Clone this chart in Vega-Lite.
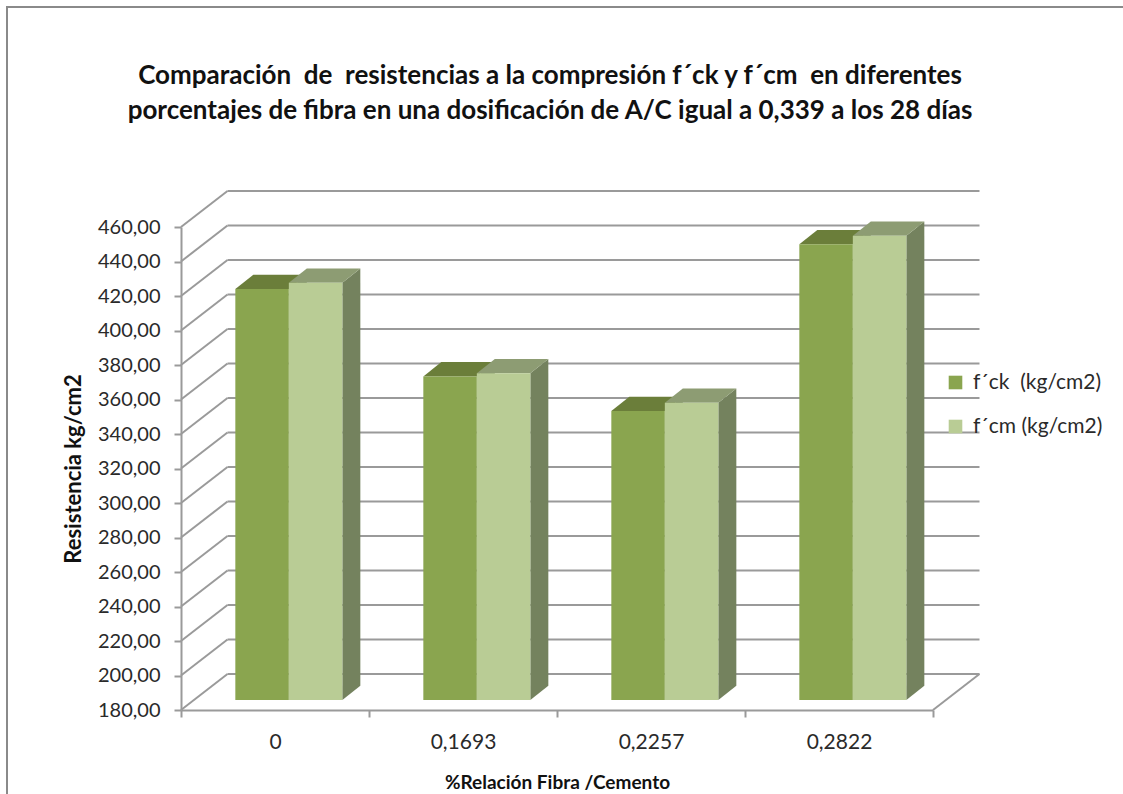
{
  "$schema": "https://vega.github.io/schema/vega-lite/v6.json",
  "width": 1118,
  "height": 790,
  "padding": {"left": 7, "top": 7, "right": 0, "bottom": 0},
  "autosize": {"type": "none"},
  "background": "white",
  "view": {"stroke": "#8a8a8a", "strokeWidth": 2, "fill": "white"},
  "config": {"font": "Lato"},
  "title": {
    "text": ["Comparación \u00a0de \u00a0resistencias a la compresión f´ck y f´cm \u00a0en diferentes", "porcentajes de fibra en una dosificación de A/C igual a 0,339 a los 28 días"],
    "anchor": "middle",
    "frame": "group",
    "dx": -16,
    "offset": -117,
    "fontSize": 26,
    "fontWeight": "bold",
    "lineHeight": 35,
    "color": "#111111"
  },
  "data": {
    "values": [
      {"categoria": "0", "serie": "f´ck \u00a0(kg/cm2)", "valor": 418.3},
      {"categoria": "0", "serie": "f´cm (kg/cm2)", "valor": 421.9},
      {"categoria": "0,1693", "serie": "f´ck \u00a0(kg/cm2)", "valor": 367.6},
      {"categoria": "0,1693", "serie": "f´cm (kg/cm2)", "valor": 369.4},
      {"categoria": "0,2257", "serie": "f´ck \u00a0(kg/cm2)", "valor": 347.5},
      {"categoria": "0,2257", "serie": "f´cm (kg/cm2)", "valor": 352.3},
      {"categoria": "0,2822", "serie": "f´ck \u00a0(kg/cm2)", "valor": 444.2},
      {"categoria": "0,2822", "serie": "f´cm (kg/cm2)", "valor": 449.1}
    ]
  },
  "transform": [
    {"calculate": "indexof(['0','0,1693','0,2257','0,2822'], datum.categoria)", "as": "indice"},
    {"calculate": "indexof(datum.serie, 'ck') >= 0 ? 0 : 1", "as": "orden"},
    {"calculate": "datum.indice + 0.289 + 0.2846 * datum.orden", "as": "xIzq"},
    {"calculate": "datum.xIzq + 0.2846", "as": "xDer"},
    {"calculate": "datum.valor + 5.8", "as": "techo"},
    {"calculate": "185.8", "as": "piso"}
  ],
  "layer": [
    {
      "description": "Pared lateral: diagonales de la cuadrícula, y ejes del gráfico",
      "data": {"values": [{"v": 180}, {"v": 200}, {"v": 220}, {"v": 240}, {"v": 260}, {"v": 280}, {"v": 300}, {"v": 320}, {"v": 340}, {"v": 360}, {"v": 380}, {"v": 400}, {"v": 420}, {"v": 440}, {"v": 460}]},
      "transform": [
        {"calculate": "0", "as": "x0"},
        {"calculate": "0.2473", "as": "x1"},
        {"calculate": "datum.v + 20.87", "as": "vFondo"}
      ],
      "mark": {"type": "rule", "stroke": "#9a9a9a", "strokeWidth": 2},
      "encoding": {
        "x": {
          "field": "x0",
          "type": "quantitative",
          "scale": {"domain": [0, 4], "range": [174, 926], "nice": false, "zero": false, "clamp": false},
          "axis": {
            "title": "%Relación Fibra /Cemento",
            "titleFontSize": 19,
            "titleFontWeight": "bold",
            "titleColor": "#111111",
            "titlePadding": 21,
            "values": [0, 1, 2, 3, 4],
            "offset": -87,
            "grid": false,
            "domainColor": "#9a9a9a",
            "domainWidth": 2,
            "tickColor": "#9a9a9a",
            "tickWidth": 2,
            "tickSize": 7,
            "labelFontSize": 21,
            "labelColor": "#2a2a2a",
            "labelPadding": 14,
            "labelOffset": 94,
            "labelFlush": false,
            "labelOverlap": false,
            "labelExpr": "['0','0,1693','0,2257','0,2822',''][datum.value]"
          }
        },
        "x2": {"field": "x1"},
        "y": {
          "field": "v",
          "type": "quantitative",
          "scale": {"domain": [180, 460], "range": [703, 220], "nice": false, "zero": false, "clamp": false},
          "axis": {
            "title": "Resistencia kg/cm2",
            "titleFontSize": 22,
            "titleFontWeight": "bold",
            "titleColor": "#111111",
            "titlePadding": 12,
            "values": [180, 200, 220, 240, 260, 280, 300, 320, 340, 360, 380, 400, 420, 440, 460],
            "offset": -174,
            "grid": false,
            "domainColor": "#9a9a9a",
            "domainWidth": 2,
            "tickColor": "#9a9a9a",
            "tickWidth": 2,
            "tickSize": 7,
            "labelFontSize": 20,
            "labelColor": "#2a2a2a",
            "labelPadding": 14,
            "labelOverlap": false,
            "labelExpr": "replace(format(datum.value, '.2f'), '.', ',')"
          }
        },
        "y2": {"field": "vFondo"}
      }
    },
    {
      "description": "Líneas de la pared del fondo",
      "data": {"values": [{"v": 180}, {"v": 200}, {"v": 220}, {"v": 240}, {"v": 260}, {"v": 280}, {"v": 300}, {"v": 320}, {"v": 340}, {"v": 360}, {"v": 380}, {"v": 400}, {"v": 420}, {"v": 440}, {"v": 460}]},
      "transform": [
        {"calculate": "0.2473", "as": "x1"},
        {"calculate": "4.2473", "as": "x2f"},
        {"calculate": "datum.v + 20.87", "as": "vFondo"}
      ],
      "mark": {"type": "rule", "stroke": "#9a9a9a", "strokeWidth": 2},
      "encoding": {
        "x": {"field": "x1", "type": "quantitative", "axis": null},
        "x2": {"field": "x2f"},
        "y": {"field": "vFondo", "type": "quantitative", "axis": null}
      }
    },
    {
      "description": "Borde derecho del piso",
      "data": {"values": [{"v": 180}]},
      "transform": [
        {"calculate": "4", "as": "x0"},
        {"calculate": "4.2473", "as": "x1"},
        {"calculate": "datum.v + 20.87", "as": "vFondo"}
      ],
      "mark": {"type": "rule", "stroke": "#9a9a9a", "strokeWidth": 2},
      "encoding": {
        "x": {"field": "x0", "type": "quantitative", "axis": null},
        "x2": {"field": "x1"},
        "y": {"field": "v", "type": "quantitative", "axis": null},
        "y2": {"field": "vFondo"}
      }
    },
    {
      "description": "Cara lateral de cada barra",
      "transform": [
        {"calculate": "[0, 1]", "as": "k"},
        {"flatten": ["k"]},
        {"calculate": "datum.xDer + 0.0957 * datum.k", "as": "xLado"},
        {"calculate": "datum.techo + 8.29 * datum.k", "as": "yLado"},
        {"calculate": "datum.piso + 8.29 * datum.k", "as": "yLado0"}
      ],
      "mark": {"type": "area", "orient": "vertical", "color": "#74825e", "opacity": 1},
      "encoding": {
        "x": {"field": "xLado", "type": "quantitative", "axis": null},
        "y": {"field": "yLado", "type": "quantitative", "axis": null, "stack": null},
        "y2": {"field": "yLado0"},
        "detail": [{"field": "categoria"}, {"field": "serie"}]
      }
    },
    {
      "description": "Cara superior de cada barra",
      "mark": {"type": "point", "filled": true, "opacity": 1, "size": 4, "strokeWidth": 0, "shape": "M0,0 L53.5,0 L71.5,-14.3 L18,-14.3 Z"},
      "encoding": {
        "x": {"field": "xIzq", "type": "quantitative", "axis": null},
        "y": {"field": "techo", "type": "quantitative", "axis": null},
        "color": {"field": "serie", "type": "nominal", "legend": null, "scale": {"domain": ["f´ck \u00a0(kg/cm2)", "f´cm (kg/cm2)"], "range": ["#6b7e3a", "#8d9c73"]}}
      }
    },
    {
      "description": "Cara frontal de cada barra, con la leyenda",
      "mark": {"type": "bar", "opacity": 1},
      "encoding": {
        "x": {"field": "xIzq", "type": "quantitative", "axis": null},
        "x2": {"field": "xDer"},
        "y": {"field": "techo", "type": "quantitative", "axis": null, "stack": null},
        "y2": {"field": "piso"},
        "color": {
          "field": "serie",
          "type": "nominal",
          "scale": {"domain": ["f´ck \u00a0(kg/cm2)", "f´cm (kg/cm2)"], "range": ["#8aa54f", "#b9cc95"]},
          "legend": {
            "title": null,
            "orient": "none",
            "legendX": 938,
            "legendY": 365,
            "symbolType": "square",
            "symbolSize": 185,
            "symbolStrokeWidth": 0,
            "labelFontSize": 21,
            "labelColor": "#2a2a2a",
            "labelOffset": 7,
            "rowPadding": 22
          }
        }
      }
    }
  ],
  "resolve": {"scale": {"color": "independent"}, "axis": {"x": "independent", "y": "independent"}}
}
